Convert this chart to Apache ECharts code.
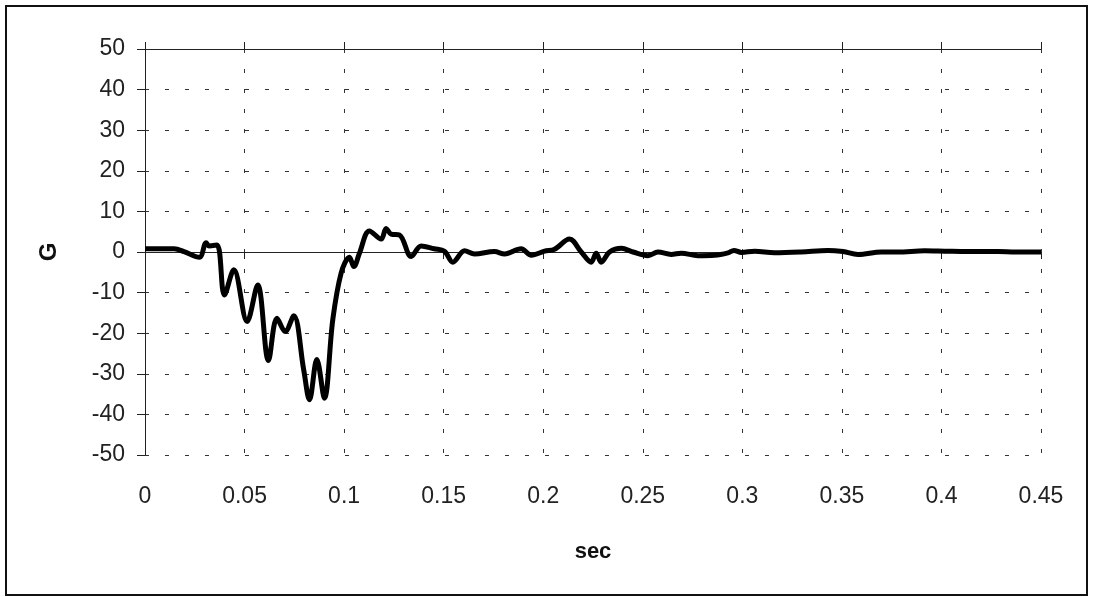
<!DOCTYPE html>
<html>
<head>
<meta charset="utf-8">
<script src="https://cdn.jsdelivr.net/npm/echarts@6/dist/echarts.min.js"></script>
<style>
  html, body { margin: 0; padding: 0; background: #fff; }
  #chart { width: 1094px; height: 597px; }
</style>
</head>
<body>
<div id="chart"></div>
<script>
// time (sec) and acceleration (G)
var times = [
  0, 0.0147, 0.0196, 0.0273, 0.0307, 0.0322, 0.0362, 0.0399, 0.0446, 0.0513,
  0.0566, 0.062, 0.0663, 0.0704, 0.0747, 0.0797, 0.0826, 0.0863, 0.0901, 0.0943,
  0.0985, 0.1027, 0.1049, 0.1077, 0.1127, 0.1186, 0.1211, 0.1236, 0.1278, 0.1337,
  0.1387, 0.1452, 0.1504, 0.1546, 0.1605, 0.1655, 0.1755, 0.1806, 0.1889, 0.194,
  0.2007, 0.2057, 0.2132, 0.2191, 0.2241, 0.2266, 0.2291, 0.2333, 0.2392, 0.2451,
  0.2526, 0.2576, 0.2643, 0.2693, 0.2777, 0.2861, 0.2928, 0.2958, 0.2995, 0.3062,
  0.3162, 0.3296, 0.343, 0.3506, 0.3581, 0.3698, 0.378, 0.3916, 0.4017, 0.413,
  0.4285, 0.437, 0.45
];
var gValues = [
  0.8, 0.8, 0.1, -1.3, 2.3, 1.5, 1.7, -10.6, -4.4, -17.1,
  -8.1, -26.7, -16.3, -19.6, -15.7, -29, -36.4, -26.5, -36, -16.7,
  -5.2, -1.3, -3.6, -0.3, 5.2, 3.2, 5.8, 4.4, 4.2, -1.1,
  1.5, 0.8, 0.2, -2.5, 0.3, -0.5, 0.1, -0.5, 0.8, -0.8,
  0.2, 0.7, 3.2, 0, -2.5, -0.3, -2.5, 0, 0.9, 0,
  -0.9, 0, -0.6, -0.3, -0.9, -0.8, -0.2, 0.4, -0.1, 0.2,
  -0.2, 0, 0.4, 0.1, -0.6, 0, 0, 0.3, 0.2, 0.1,
  0.1, 0, 0
];
var xTicks = { min: 0, max: 0.45, interval: 0.05 };
var yTicks = { min: -50, max: 50, interval: 10 };

var points = times.map(function(t, i) {
  return [t, gValues[i]];
});

var font = "Liberation Sans";
var dashed = { color: "#333", width: 1, type: [4, 16] };

var chart = echarts.init(document.getElementById("chart"));
var option = {
  animation: false,
  backgroundColor: "#fff",
  graphic: [
    {
      type: "rect",
      shape: { x: 6, y: 6, width: 1081, height: 589 },
      style: { fill: "none", stroke: "#111", lineWidth: 2 }
    }
  ],
  grid: { left: 145, right: 53, top: 49, bottom: 142 },
  xAxis: [
    {
      type: "value",
      min: xTicks.min,
      max: xTicks.max,
      interval: xTicks.interval,
      name: "sec",
      nameLocation: "middle",
      nameGap: 86,
      nameTextStyle: { fontFamily: font, fontSize: 22, fontWeight: "bold", color: "#111" },
      axisLine: { show: false },
      axisTick: { show: false },
      axisLabel: { fontFamily: font, fontSize: 23, color: "#222", margin: 30 },
      splitLine: { show: true, lineStyle: dashed }
    },
    {
      type: "value",
      position: "bottom",
      min: xTicks.min,
      max: xTicks.max,
      interval: xTicks.interval,
      axisLine: { show: true, onZero: true, lineStyle: { color: "#222", width: 1 } },
      axisTick: { show: true, inside: false, length: 7, lineStyle: { color: "#222" } },
      axisLabel: { show: false },
      splitLine: { show: false }
    },
    {
      type: "value",
      position: "top",
      min: xTicks.min,
      max: xTicks.max,
      interval: xTicks.interval,
      axisLine: { show: true, onZero: true, lineStyle: { color: "#222", width: 1 } },
      axisTick: { show: true, inside: false, length: 7, lineStyle: { color: "#222" } },
      axisLabel: { show: false },
      splitLine: { show: false }
    }
  ],
  yAxis: [
    {
      type: "value",
      min: yTicks.min,
      max: yTicks.max,
      interval: yTicks.interval,
      name: "G",
      nameLocation: "middle",
      nameGap: 84,
      nameTextStyle: { fontFamily: font, fontSize: 24, fontWeight: "bold", color: "#111" },
      axisLine: { show: true, onZero: false, lineStyle: { color: "#222", width: 1 } },
      axisTick: { show: true, inside: false, length: 8, lineStyle: { color: "#222" } },
      axisLabel: { fontFamily: font, fontSize: 23, color: "#222", margin: 20 },
      splitLine: { show: true, lineStyle: dashed }
    },
    {
      type: "value",
      position: "right",
      min: yTicks.min,
      max: yTicks.max,
      interval: yTicks.interval,
      axisLine: { show: false, onZero: true },
      axisTick: { show: true, inside: true, length: 8, lineStyle: { color: "#222" } },
      axisLabel: { show: false },
      splitLine: { show: false }
    }
  ],
  series: [
    {
      type: "line",
      data: points,
      smooth: 0.35,
      symbol: "none",
      lineStyle: { color: "#000", width: 5 }
    }
  ]
};
chart.setOption(option);
</script>
</body>
</html>
